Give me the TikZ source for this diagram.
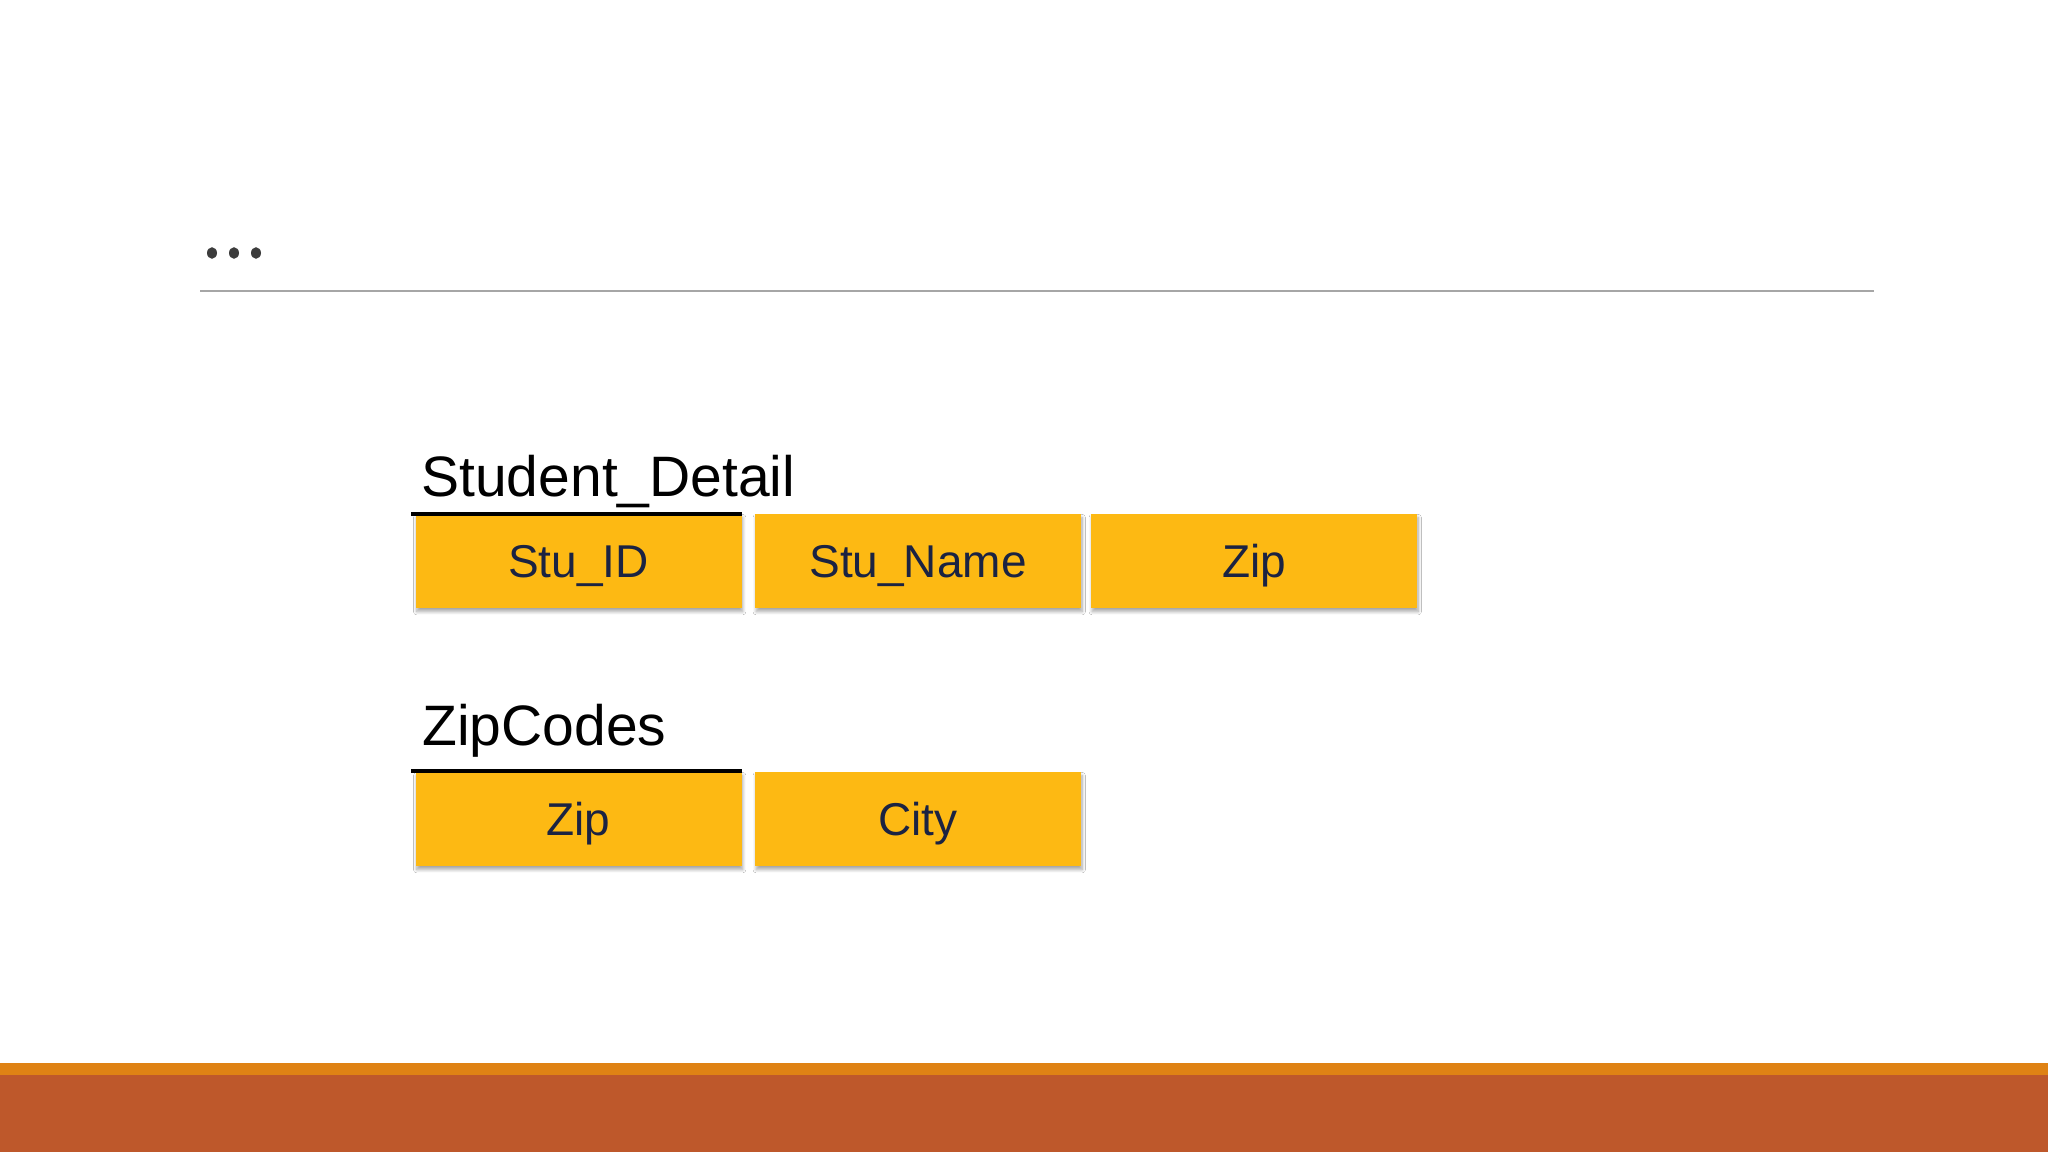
\documentclass[tikz,border=0pt]{standalone}
\usepackage{fontspec}
\setmainfont{Liberation Sans}
\usetikzlibrary{shadows.blur}
\definecolor{boxfill}{HTML}{FDB913}
\definecolor{boxtext}{HTML}{1B2342}
\definecolor{sepgray}{HTML}{A6A6A6}
\definecolor{dotgray}{HTML}{3C3C3C}
\definecolor{bandorange}{HTML}{DF8214}
\definecolor{bandrust}{HTML}{BE582B}
\tikzset{
  field/.style={fill=boxfill, draw=none, minimum width=163pt, minimum height=47pt,
    inner sep=0pt, text=boxtext, font=\fontsize{23}{23}\selectfont,
    text height=16.6pt, text depth=0pt,
    blur shadow={shadow xshift=0.6pt, shadow yshift=-1.8pt, shadow blur radius=1.6pt, shadow opacity=35, shadow blur steps=8}},
  tabletitle/.style={anchor=base west, inner sep=0pt, font=\fontsize{28.5}{28.5}\selectfont, text=black},
  keyline/.style={line width=2pt, draw=black},
  dotmark/.style={fill=dotgray, draw=none, ellipse, minimum width=5pt, minimum height=5.8pt, inner sep=0pt}
}
\usetikzlibrary{shapes.geometric}
\begin{document}
\begin{tikzpicture}[x=0.5pt, y=-0.5pt]
\useasboundingbox (0,0) rectangle (2048,1152);
\fill[white] (0,0) rectangle (2048,1152);
% header dots and separator
\node[dotmark] (d1) at (212,253) {};
\node[dotmark] (d2) at (234,253) {};
\node[dotmark] (d3) at (256,253) {};
\coordinate (sepL) at (200,291);
\coordinate (sepR) at (1874,291);
\draw[sepgray, line width=1pt] (sepL) -- (sepR);
% bottom band
\fill[bandorange] (0,1063) rectangle (2048,1076);
\fill[bandrust] (0,1075) rectangle (2048,1152);
% Student_Detail table
\node[tabletitle] (t1) at (421,496) {Student\_Detail};
\node[field] (sid) at (578.5,561) {Stu\_ID};
\node[field] (sname) at (918,561) {Stu\_Name};
\node[field] (szip) at (1254,561) {Zip};
\coordinate (u1a) at (411,514);
\coordinate (u1b) at (742,514);
\draw[keyline] (u1a) -- (u1b);
% ZipCodes table
\node[tabletitle] (t2) at (422,745) {ZipCodes};
\node[field] (zzip) at (578.5,819) {Zip};
\node[field] (zcity) at (918,819) {City};
\coordinate (u2a) at (411,771);
\coordinate (u2b) at (742,771);
\draw[keyline] (u2a) -- (u2b);
\end{tikzpicture}
\end{document}
